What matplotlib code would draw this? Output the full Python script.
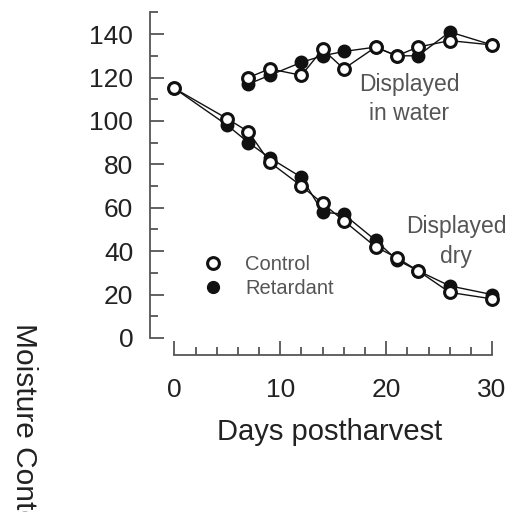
import numpy as np
import matplotlib.pyplot as plt
from matplotlib.lines import Line2D
from matplotlib.ticker import FixedLocator

plt.rcParams['font.family'] = ['Liberation Sans', 'DejaVu Sans']

# ---------------- data ----------------
days_dry = [0, 5, 7, 9, 12, 14, 16, 19, 21, 23, 26, 30]
control_dry = [115, 101, 95, 81, 70, 62, 54, 42, 37, 31, 21, 18]
retard_dry = [115, 98, 90, 83, 74, 58, 57, 45, 36, 31, 24, 20]

days_water = [7, 9, 12, 14, 16, 19, 21, 23, 26, 30]
control_water = [120, 124, 121, 133, 124, 134, 130, 134, 137, 135]
retard_water = [117, 121, 127, 130, 132, 134, 130, 130, 141, 135]

# ---------------- figure ----------------
fig = plt.figure(figsize=(5.09, 5.12), dpi=100)
ax = fig.add_axes([150 / 509, 0.306, 359 / 509, 0.691])

ink = '#111111'
axc = '#555555'

for d, y in [(days_dry, retard_dry), (days_water, retard_water)]:
    ax.plot(d, y, '-', color=ink, lw=1.0, marker='o', ms=8.5,
            mfc=ink, mec=ink, mew=1.5, clip_on=False, zorder=3)
for d, y in [(days_dry, control_dry), (days_water, control_water)]:
    ax.plot(d, y, '-', color=ink, lw=1.0, marker='o', ms=8.5,
            mfc='white', mec=ink, mew=2.2, clip_on=False, zorder=4)

ax.set_xlim(-2.3, 31.6)
ax.set_ylim(-8, 155)

for s in ['top', 'right']:
    ax.spines[s].set_visible(False)
ax.spines['left'].set_bounds(0, 150)
ax.spines['bottom'].set_bounds(0, 30)
for s in ['left', 'bottom']:
    ax.spines[s].set_color(axc)
    ax.spines[s].set_linewidth(1.3)

ax.set_xticks([0, 10, 20, 30])
ax.xaxis.set_minor_locator(FixedLocator(np.arange(0, 31, 2)))
ax.set_yticks([0, 20, 40, 60, 80, 100, 120, 140])
ax.yaxis.set_minor_locator(FixedLocator(np.arange(0, 151, 10)))

ax.tick_params(which='both', direction='in', color=axc, width=1.3,
               labelsize=19, labelcolor='#222222')
ax.tick_params(which='major', length=10)
ax.tick_params(which='minor', length=5.5)
ax.tick_params(axis='y', which='major', pad=12)
ax.tick_params(axis='x', which='major', pad=16)

ax.set_xlabel('Days postharvest', fontsize=21, color='#222222', labelpad=12)

fig.text(24 / 509, 1 - 323 / 512, 'Moisture Content (%)', rotation=270,
         ha='center', va='top', fontsize=21.5, color='#222222')

ax.text(22.2, 110, 'Displayed\nin water', ha='center', va='center',
        fontsize=16.5, color='#555555', linespacing=1.35)
ax.text(26.6, 44.5, 'Displayed\ndry', ha='center', va='center',
        fontsize=16.5, color='#555555', linespacing=1.35)

handles = [Line2D([], [], ls='none', marker='o', ms=8.5, mfc='white', mec=ink, mew=2.2),
           Line2D([], [], ls='none', marker='o', ms=8.5, mfc=ink, mec=ink)]
ax.legend(handles, ['Control', 'Retardant'], loc='upper left',
          bbox_to_anchor=(0.0975, 0.335), frameon=False, fontsize=14.5,
          labelcolor='#555555', handletextpad=1.1, labelspacing=0.25,
          handlelength=1.0)

fig.savefig('out.png', dpi=100)
